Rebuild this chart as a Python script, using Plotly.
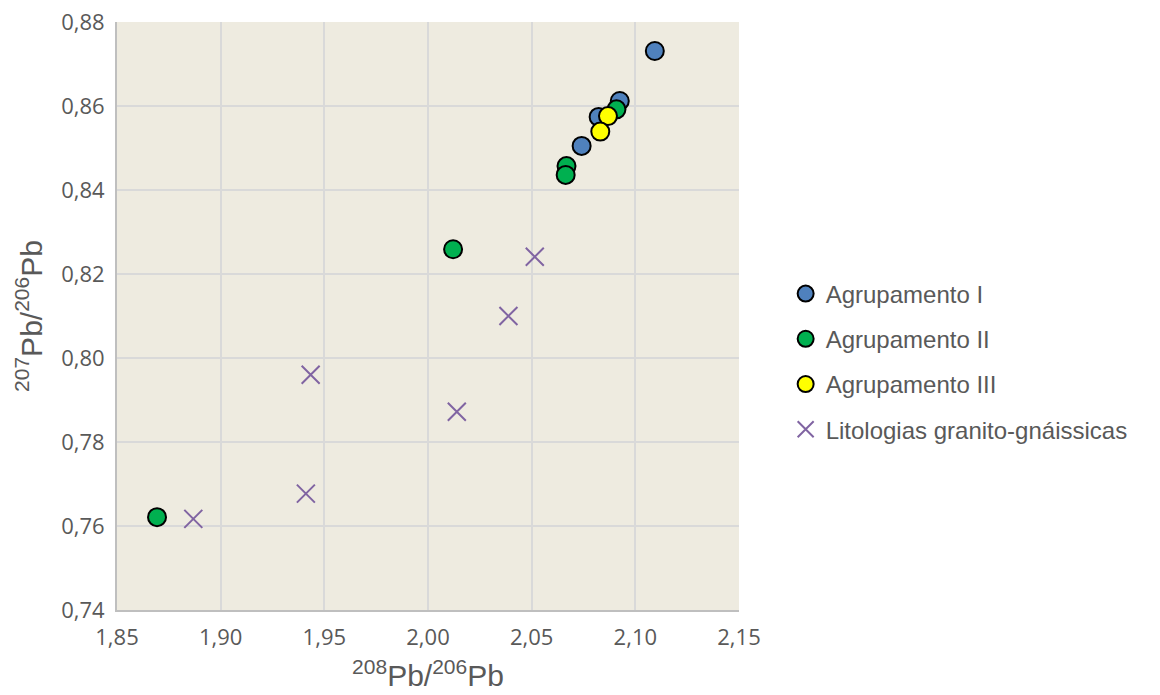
import plotly.graph_objects as go

# 208Pb/206Pb (x) and 207Pb/206Pb (y) ratios per group
grp1_x = [2.1094, 2.0925, 2.0823, 2.0741]
grp1_y = [0.8731, 0.8612, 0.8574, 0.8505]

grp2_x = [2.0909, 2.0668, 2.0664, 2.0121, 1.8693]
grp2_y = [0.8592, 0.8457, 0.8436, 0.8259, 0.7621]

grp3_x = [2.0868, 2.0831]
grp3_y = [0.8576, 0.8539]

lito_x = [2.0515, 2.0388, 1.9434, 2.0139, 1.9411, 1.8868]
lito_y = [0.8241, 0.8100, 0.7960, 0.7872, 0.7677, 0.7617]

series_names = ["Agrupamento I", "Agrupamento II", "Agrupamento III",
                "Litologias granito-gnáissicas"]

x_ticks = [1.85, 1.90, 1.95, 2.00, 2.05, 2.10, 2.15]
y_ticks = [0.74, 0.76, 0.78, 0.80, 0.82, 0.84, 0.86, 0.88]

fig = go.Figure()

circle_colors = ["#4F81BD", "#00B050", "#FFFF00"]
for name, xs, ys, col in zip(series_names[:3], [grp1_x, grp2_x, grp3_x],
                             [grp1_y, grp2_y, grp3_y], circle_colors):
    fig.add_trace(go.Scatter(
        x=xs, y=ys, mode="markers", name=name, legendgroup=name,
        marker=dict(symbol="circle", size=18, color=col,
                    line=dict(color="#000000", width=2)),
    ))

fig.add_trace(go.Scatter(
    x=lito_x, y=lito_y, mode="markers", name=series_names[3],
    legendgroup=series_names[3],
    marker=dict(symbol="x-thin", size=18, color="#8064A2",
                line=dict(color="#8064A2", width=2)),
))

axis_common = dict(
    showgrid=True, gridcolor="#D9D9D9", gridwidth=2,
    zeroline=False, showline=True, linecolor="#BFBFBF", linewidth=2,
    ticks="", tickformat=".2f", automargin=False,
    tickfont=dict(family="Open Sans, Liberation Sans, sans-serif", size=22,
                  color="#595959"),
    title_font=dict(family="Liberation Sans, Arial, sans-serif", size=30,
                    color="#595959"),
)

fig.update_xaxes(range=[1.85, 2.15], tickvals=x_ticks,
                 title_text="<sup>208</sup>Pb/<sup>206</sup>Pb",
                 title_standoff=15, ticklabelstandoff=7, **axis_common)
fig.update_yaxes(range=[0.74, 0.88], tickvals=y_ticks,
                 title_text="<sup>207</sup>Pb/<sup>206</sup>Pb",
                 title_standoff=10, ticklabelstandoff=6, **axis_common)

fig.update_layout(
    width=1160, height=695,
    margin=dict(l=117, r=421, t=22, b=85),
    paper_bgcolor="#FFFFFF", plot_bgcolor="#EEEBE0",
    separators=",.",
    legend=dict(
        x=1.075, y=0.4226, xanchor="left", yanchor="middle",
        font=dict(family="Liberation Sans, Arial, sans-serif", size=24,
                  color="#595959"),
        tracegroupgap=11, itemwidth=30, bgcolor="rgba(0,0,0,0)",
    ),
)

fig.write_html("out.html")
